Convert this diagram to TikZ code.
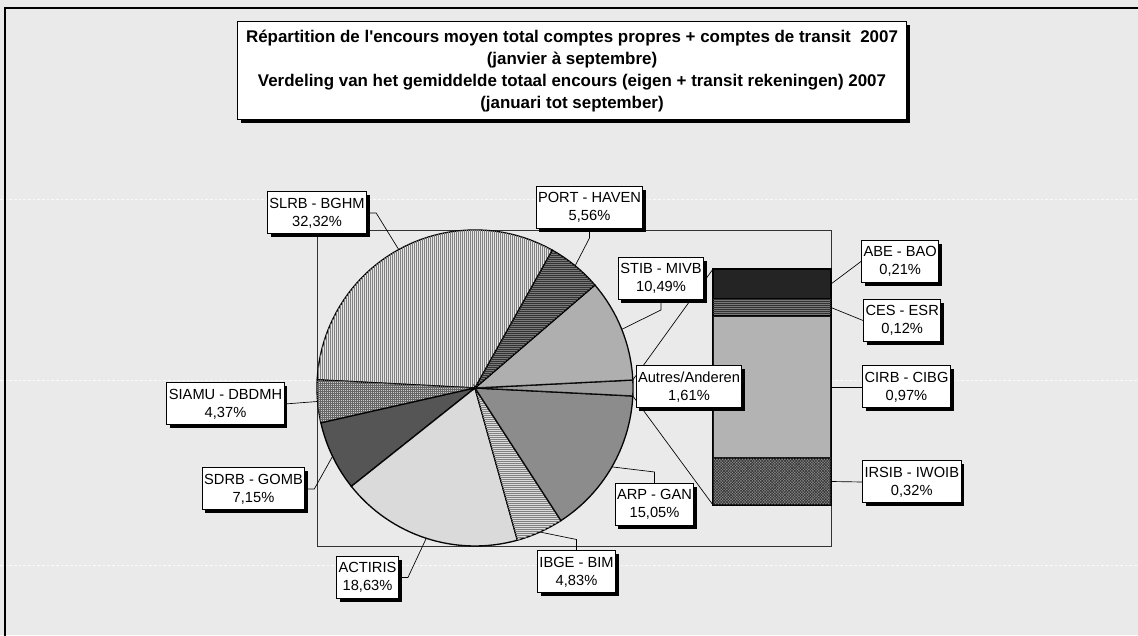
\documentclass[tikz,border=0pt]{standalone}
\usepackage{fontspec}
\setmainfont{Liberation Sans}[Ligatures=TeXOff]
\usetikzlibrary{patterns.meta,shadows}
\definecolor{bgc}{RGB}{234,234,234}

\begin{document}
\begin{tikzpicture}[x=0.75pt,y=0.75pt,
	lbl/.style={draw=black,line width=0.75pt,fill=white,inner xsep=1.5pt,inner ysep=2pt,minimum height=31.5pt,align=center,font=\fontsize{11}{13.3}\selectfont,drop shadow={shadow xshift=2.4pt,shadow yshift=-2.4pt,opacity=1,fill=black}},
	ttl/.style={draw=black,line width=0.75pt,fill=white,minimum width=502pt,minimum height=73.5pt,align=center,font=\fontsize{12.7}{16.3}\selectfont\bfseries,drop shadow={shadow xshift=2.4pt,shadow yshift=-2.4pt,opacity=1,fill=black}},
	lead/.style={line width=0.5pt},
	slice/.style={draw=black,line width=1pt},
	slrb/.style={slice,fill=black!10,postaction={pattern={Lines[angle=90,distance=1.5pt,line width=0.6pt]},pattern color=black!50}},
	port/.style={slice,fill=black!52,postaction={pattern={Lines[angle=0,distance=1.5pt,line width=0.45pt]},pattern color=black!80}},
	stib/.style={slice,fill=black!24,postaction={pattern={Dots[distance=1.5pt,radius=0.4pt]},pattern color=black!55}},
	autres/.style={slice,fill=black!30,postaction={pattern={Dots[distance=1.5pt,radius=0.4pt]},pattern color=black!60}},
	arp/.style={slice,fill=black!36,postaction={pattern={Dots[distance=1.5pt,radius=0.45pt]},pattern color=black!75}},
	ibge/.style={slice,fill=black!14,postaction={pattern={Lines[angle=0,distance=1.5pt,line width=0.55pt]},pattern color=black!50}},
	actiris/.style={slice,fill=black!12,postaction={pattern={Dots[distance=1.5pt,radius=0.35pt]},pattern color=black!40}},
	sdrb/.style={slice,fill=black!58,postaction={pattern={Dots[distance=1.5pt,radius=0.5pt]},pattern color=black!95}},
	siamu/.style={slice,fill=black!20,postaction={pattern={Hatch[angle=0,distance=1.5pt,line width=0.5pt]},pattern color=black!60}},
	abe/.style={slice,fill=black!86},
	ces/.style={slice,fill=black!52,postaction={pattern={Lines[angle=0,distance=1.5pt,line width=0.45pt]},pattern color=black!80}},
	cirb/.style={slice,fill=black!22,postaction={pattern={Dots[distance=1.5pt,radius=0.4pt]},pattern color=black!55}},
	irsib/.style={slice,fill=black!42,postaction={pattern={Hatch[angle=45,distance=1.5pt,line width=0.45pt]},pattern color=black!80}}]

	% background and frame
	\useasboundingbox (0,0) rectangle (1138,635);
	\fill[bgc] (0,0) rectangle (1138,635);
	\draw[white,dash pattern=on 2pt off 1.5pt,opacity=0.8] (0,436) -- (1138,436);
	\draw[white,dash pattern=on 2pt off 1.5pt,opacity=0.8] (0,255) -- (1138,255);
	\draw[white,dash pattern=on 2pt off 1.5pt,opacity=0.8] (0,70) -- (1138,70);
	\draw[line width=1pt] (5,-10) -- (5,627) -- (1150,627);

	% title
	\node[ttl] (title) at (572,564) {R\'epartition de l'encours moyen total comptes propres + comptes de transit \ 2007\\(janvier \`a septembre)\\Verdeling van het gemiddelde totaal encours (eigen + transit rekeningen) 2007\\(januari tot september)};

	% plot area
	\draw[line width=0.6pt,black!80] (317,89) rectangle (831,405);

	% pie
	\coordinate (c) at (475,247);
	\draw[slrb] (c) -- ++(60.68:158) arc[start angle=60.68,end angle=177.03,radius=158] -- cycle;
	\draw[siamu] (c) -- ++(177.03:158) arc[start angle=177.03,end angle=192.76,radius=158] -- cycle;
	\draw[sdrb] (c) -- ++(192.76:158) arc[start angle=192.76,end angle=218.50,radius=158] -- cycle;
	\draw[actiris] (c) -- ++(218.50:158) arc[start angle=218.50,end angle=285.57,radius=158] -- cycle;
	\draw[ibge] (c) -- ++(285.57:158) arc[start angle=285.57,end angle=302.96,radius=158] -- cycle;
	\draw[arp] (c) -- ++(302.96:158) arc[start angle=302.96,end angle=357.10,radius=158] -- cycle;
	\draw[autres] (c) -- ++(-2.90:158) arc[start angle=-2.90,end angle=2.90,radius=158] -- cycle;
	\draw[stib] (c) -- ++(2.90:158) arc[start angle=2.90,end angle=40.66,radius=158] -- cycle;
	\draw[port] (c) -- ++(40.66:158) arc[start angle=40.66,end angle=60.68,radius=158] -- cycle;

	% bar of the other slice
	\draw[abe] (713,366) rectangle (831,336);
	\draw[ces] (713,336) rectangle (831,319);
	\draw[cirb] (713,319) rectangle (831,177);
	\draw[irsib] (713,177) rectangle (831,130);

	% series lines
	\path (c) ++(2.90:158) coordinate (s-top);
	\path (c) ++(-2.90:158) coordinate (s-bot);
	\coordinate (b-top) at (713,366);
	\coordinate (b-bot) at (713,130);
	\draw[lead] (s-top) -- (b-top);
	\draw[lead] (s-bot) -- (b-bot);

	% leader points
	\path (c) ++(118.86:158) coordinate (p-slrb);
	\path (c) ++(50.67:158) coordinate (p-port);
	\path (c) ++(21.78:158) coordinate (p-stib);
	\path (c) ++(-29.95:158) coordinate (p-arp);
	\path (c) ++(-65.73:158) coordinate (p-ibge);
	\path (c) ++(252.03:158) coordinate (p-actiris);
	\path (c) ++(205.63:158) coordinate (p-sdrb);
	\path (c) ++(184.90:158) coordinate (p-siamu);
	\coordinate (b-abe) at (831,351);
	\coordinate (b-ces) at (831,327.5);
	\coordinate (b-cirb) at (831,248);
	\coordinate (b-irsib) at (831,153.5);

	% labels
	\node[lbl] (slrb) at (317,422) {SLRB - BGHM\\32,32\%};
	\node[lbl] (port) at (589.5,427.5) {PORT - HAVEN\\5,56\%};
	\node[lbl] (stib) at (661,356.5) {STIB - MIVB\\10,49\%};
	\node[lbl] (autres) at (689,248) {Autres/Anderen\\1,61\%};
	\node[lbl] (arp) at (654.5,130.5) {ARP - GAN\\15,05\%};
	\node[lbl] (ibge) at (576.5,63) {IBGE - BIM\\4,83\%};
	\node[lbl] (actiris) at (367.5,57.5) {ACTIRIS\\18,63\%};
	\node[lbl] (sdrb) at (253.5,146) {SDRB - GOMB\\7,15\%};
	\node[lbl] (siamu) at (225.5,231) {SIAMU - DBDMH\\4,37\%};
	\node[lbl,anchor=west] (abe) at (861,373.5) {ABE - BAO\\0,21\%};
	\node[lbl,anchor=west] (ces) at (863,314.5) {CES - ESR\\0,12\%};
	\node[lbl,anchor=west] (cirb) at (862,248) {CIRB - CIBG\\0,97\%};
	\node[lbl,anchor=west] (irsib) at (862,153) {IRSIB - IWOIB\\0,32\%};

	% leader lines
	\draw[lead] (slrb.east) -- ++(9,0) -- (p-slrb);
	\draw[lead] (port.south) -- ++(0,-9) -- (p-port);
	\draw[lead] (stib.south) -- ++(0,-10) -- (p-stib);
	\draw[lead] (arp.north) -- ++(0,11) -- (p-arp);
	\draw[lead] (ibge.north) -- ++(0,11) -- (p-ibge);
	\draw[lead] (actiris.east) -- ++(9,0) -- (p-actiris);
	\draw[lead] (sdrb.east) -- ++(9,0) -- (p-sdrb);
	\draw[lead] (siamu.east) -- (p-siamu);
	\draw[lead] (abe.west) -- (b-abe);
	\draw[lead] (ces.west) -- (b-ces);
	\draw[lead] (cirb.west) -- (b-cirb);
	\draw[lead] (irsib.west) -- (b-irsib);
\end{tikzpicture}
\end{document}
